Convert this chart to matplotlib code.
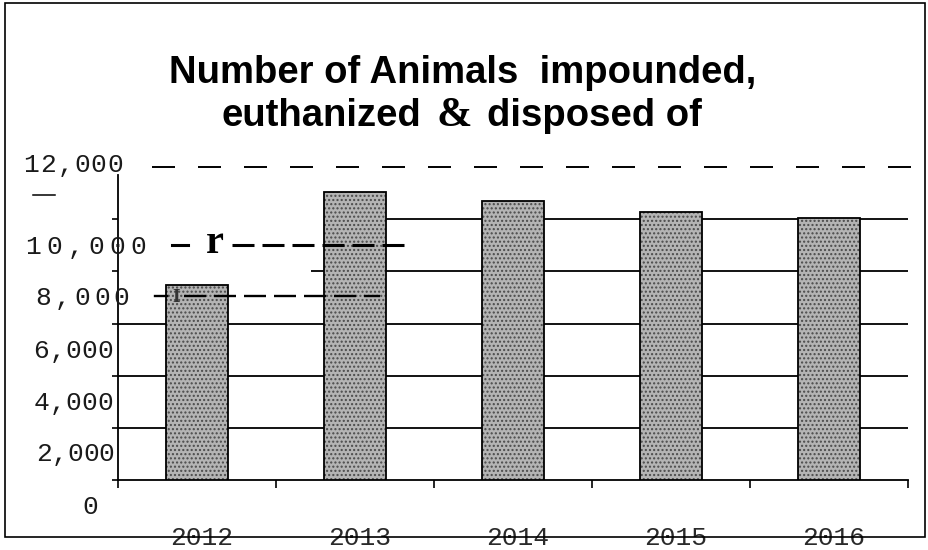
import matplotlib
matplotlib.use("Agg")
import matplotlib.pyplot as plt
import matplotlib.transforms as mtransforms
from matplotlib.offsetbox import TextArea, HPacker, AnchoredOffsetbox
from matplotlib.patches import Rectangle
from matplotlib.lines import Line2D

# ---- data -------------------------------------------------------------
years = ["2012", "2013", "2014", "2015", "2016"]
animals = [7480, 11060, 10700, 10280, 10040]
ytick_values = [0, 2000, 4000, 6000, 8000, 10000, 12000]
ytick_labels = ["0", "2,000", "4,000", "6,000", "8,000", "10,000", "12,000"]
title_line1 = "Number of Animals  impounded,"
title_line2 = ["euthanized", "&", "disposed of"]

# ---- canvas -----------------------------------------------------------
W, H, DPI = 929, 550, 100
plt.rcParams["lines.scale_dashes"] = False
plt.rcParams["hatch.linewidth"] = 1.0
fig = plt.figure(figsize=(W / DPI, H / DPI), dpi=DPI)
fig.patch.set_facecolor("white")


def fx(px):
    return px / W


def fy(py):
    return 1 - py / H


def pt(px):
    return px * 72 / DPI


MONO = "Liberation Mono"
SANS = "Liberation Sans"
SERIF = "Liberation Serif"

ax = fig.add_axes([fx(118), fy(480), fx(908) - fx(118), fy(175) - fy(480)])
ax.set_xlim(-0.5, len(years) - 0.5)
ax.set_ylim(0, 11700)
ax.set_facecolor("none")

# bars: stippled grey fill, then a black outline on top
x = list(range(len(years)))
ax.bar(x, animals, width=0.39, color="#b4b4b4", edgecolor="#4a4a4a",
       linewidth=0, hatch="....", zorder=3)
ax.bar(x, animals, width=0.39, fill=False, edgecolor="black",
       linewidth=1.3, zorder=4)

# horizontal rules (the upper two are broken on the left)
for v in ytick_values[1:4]:
    ax.hlines(v, -0.5, 4.5, color="black", lw=1.3, zorder=1)
ax.hlines(ytick_values[4], 0.72, 4.5, color="black", lw=1.3, zorder=1)
ax.hlines(ytick_values[5], 1.0, 4.5, color="black", lw=1.3, zorder=1)

# spines and ticks
for s in ("top", "right"):
    ax.spines[s].set_visible(False)
for s in ("left", "bottom"):
    ax.spines[s].set_color("black")
    ax.spines[s].set_linewidth(1.3)
ax.set_xticks([i - 0.5 for i in range(len(years) + 1)])
ax.set_yticks(ytick_values[:-1])
ax.tick_params(axis="x", direction="out", length=pt(8), width=1.2,
               labelbottom=False)
ax.tick_params(axis="y", direction="out", length=pt(6), width=1.2,
               labelleft=False)

# ---- y labels: monospaced, drawn char by char -------------------------
label_fs = 18.9
label_layout = {  # right edge px, pitch px, baseline drop px
    "0": (97, 15.7, 34),
    "2,000": (113, 15.7, 33),
    "4,000": (112, 16.0, 34),
    "6,000": (112, 16.0, 34),
    "8,000": (128, 19.5, 34),
    "10,000": (145, 21.0, 35),
    "12,000": (122, 16.8, 5),
}


def ylabel_transform(drop_px):
    base = mtransforms.blended_transform_factory(fig.transFigure, ax.transData)
    return base + mtransforms.ScaledTranslation(0, -drop_px / DPI,
                                                fig.dpi_scale_trans)


for v, lab in zip(ytick_values, ytick_labels):
    right, pitch, drop = label_layout[lab]
    tr = ylabel_transform(drop)
    n = len(lab)
    for i, ch in enumerate(lab):
        cx = right - 6.5 - pitch * (n - 1 - i)
        fig.text(fx(cx), v, ch, transform=tr, ha="center", va="baseline",
                 fontfamily=MONO, fontsize=label_fs, color="#1a1a1a")

# ---- x labels ---------------------------------------------------------
xtr = mtransforms.blended_transform_factory(ax.transData, fig.transFigure) + \
    mtransforms.ScaledTranslation(4.5 / DPI, 0, fig.dpi_scale_trans)
for i, yr in enumerate(years):
    fig.text(i, fy(545), yr, transform=xtr, ha="center", va="baseline",
             fontfamily=MONO, fontsize=label_fs, color="#2a2a2a")

# ---- dashed leaders beside the labels -------------------------------
top_tr = mtransforms.blended_transform_factory(fig.transFigure, ax.transData)
top_line = Line2D([fx(152), fx(925)], [12000, 12000], transform=top_tr,
                  color="black", lw=1.4, clip_on=False, zorder=5)
top_line.set_dashes((pt(23), pt(23)))
fig.add_artist(top_line)

tr10 = ylabel_transform(26)
fig.add_artist(Line2D([fx(172), fx(188)], [10000, 10000], transform=tr10,
                      color="black", lw=2.2, clip_on=False, zorder=5))
lead10 = Line2D([fx(232), fx(405)], [10000, 10000], transform=tr10,
                color="black", lw=2.2, clip_on=False, zorder=5)
lead10.set_dashes((pt(22), pt(8)))
fig.add_artist(lead10)
fig.text(fx(215), 10000, "r", transform=ylabel_transform(34), ha="center",
         va="baseline", fontfamily=SERIF, fontweight="bold", fontsize=29,
         color="black", zorder=6)

tr8 = ylabel_transform(25)
fig.add_artist(Line2D([fx(155), fx(167)], [8000, 8000], transform=tr8,
                      color="black", lw=1.7, clip_on=False, zorder=5))
lead8 = Line2D([fx(184), fx(380)], [8000, 8000], transform=tr8,
               color="black", lw=1.7, clip_on=False, zorder=5)
lead8.set_dashes((pt(22), pt(8)))
fig.add_artist(lead8)
fig.text(fx(176), 8000, "I", transform=ylabel_transform(31), ha="center",
         va="baseline", fontfamily=SERIF, fontweight="bold", fontsize=14,
         color="#333333", zorder=6)

fig.add_artist(Line2D([fx(33), fx(55)], [fy(195), fy(195)],
                      transform=fig.transFigure, color="black", lw=1.1))

# ---- title ------------------------------------------------------------
title_fs = 27.5
fig.text(fx(463), fy(83), title_line1, ha="center", va="baseline",
         fontfamily=SANS, fontweight="bold", fontsize=title_fs, color="black")

sans_props = dict(fontfamily=SANS, fontweight="bold", fontsize=title_fs,
                  color="black")
amp_props = dict(fontfamily=SERIF, fontweight="bold", fontsize=title_fs + 3,
                 color="black")
parts = [TextArea(title_line2[0], textprops=sans_props),
         TextArea(title_line2[1], textprops=amp_props),
         TextArea(title_line2[2], textprops=sans_props)]
row = HPacker(children=parts, align="baseline", pad=0, sep=11)
anchored = AnchoredOffsetbox(loc="center", child=row, pad=0, borderpad=0,
                             frameon=False,
                             bbox_to_anchor=(fx(462), fy(116)),
                             bbox_transform=fig.transFigure)
fig.add_artist(anchored)

# ---- outer frame ------------------------------------------------------
fig.add_artist(Rectangle((fx(5), fy(537)), fx(925) - fx(5), fy(3) - fy(537),
                         transform=fig.transFigure, fill=False,
                         edgecolor="black", lw=1.2, zorder=10))

fig.savefig("out.png", dpi=DPI, facecolor="white")
